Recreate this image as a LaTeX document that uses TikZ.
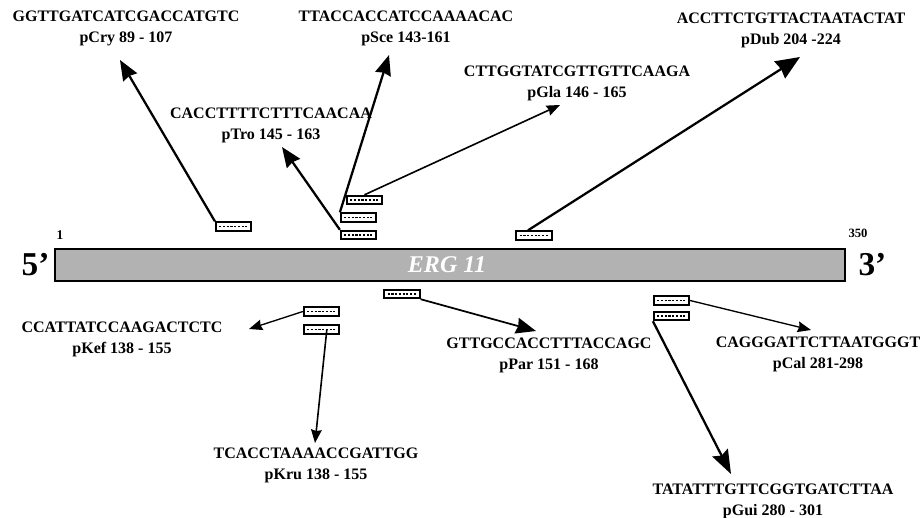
\documentclass[tikz,border=0pt]{standalone}
\usepackage{fontspec}
\setmainfont{Liberation Serif}
\usetikzlibrary{arrows.meta}

\definecolor{genegray}{gray}{0.70}

\tikzset{
  seqlabel/.style={align=center, inner sep=0pt, font=\fontsize{12}{15.8}\selectfont\bfseries},
  probe/.style={draw, fill=white, line width=1.4pt, minimum width=26.5pt, minimum height=6.4pt, inner sep=0pt,
    path picture={\draw[line width=1pt, dash pattern=on 1.6pt off 1.2pt]
      ([xshift=2.5pt]path picture bounding box.west) -- ([xshift=-2.5pt]path picture bounding box.east);}},
  bigarrow/.style={line width=1.7pt, -{Stealth[inset=1.2pt, length=15pt, width=12pt]}},
  thinarrow/.style={line width=1pt, -{Stealth[inset=1pt, length=10pt, width=8pt]}}
}

\begin{document}
\begin{tikzpicture}[x=0.75pt, y=-0.75pt]
  \useasboundingbox (0,0) rectangle (922,518);

  % gene
  \node[draw, fill=genegray, line width=1.3pt, minimum width=592.5pt, minimum height=24pt, inner sep=0pt] (gene) at (450,265) {};
  \node[text=white, font=\fontsize{18}{18}\selectfont\bfseries\itshape] (geneName) at (447,265) {ERG 11};
  \node[font=\fontsize{25}{25}\selectfont\bfseries, left=0pt] (fivePrime) at (gene.west) {5'};
  \node[font=\fontsize{25}{25}\selectfont\bfseries, right=6pt] (threePrime) at (gene.east) {3'};
  \node[font=\fontsize{10}{10}\selectfont\bfseries] (posStart) at (60,235) {1};
  \node[font=\fontsize{9.5}{10}\selectfont\bfseries] (posEnd) at (858,233) {350};

  % probes
  \node[probe] (cryProbe) at (233.5,226.5) {};
  \node[probe] (glaProbe) at (364.5,200) {};
  \node[probe] (sceProbe) at (358.5,217.5) {};
  \node[probe] (troProbe) at (358.5,235) {};
  \node[probe] (dubProbe) at (534,235.5) {};
  \node[probe] (parProbe) at (402,294) {};
  \node[probe] (kefProbe) at (321.5,311.5) {};
  \node[probe] (kruProbe) at (321.5,329.5) {};
  \node[probe] (calProbe) at (671.5,300.5) {};
  \node[probe] (guiProbe) at (671.5,316) {};

  % labels
  \node[seqlabel] (cryLbl) at (126,28) {GGTTGATCATCGACCATGTC\\pCry 89 - 107};
  \node[seqlabel] (sceLbl) at (406,28) {TTACCACCATCCAAAACAC\\pSce 143-161};
  \node[seqlabel] (troLbl) at (271,125) {CACCTTTTCTTTCAACAA\\pTro 145 - 163};
  \node[seqlabel] (glaLbl) at (577,83) {CTTGGTATCGTTGTTCAAGA\\pGla 146 - 165};
  \node[seqlabel] (dubLbl) at (791,30) {ACCTTCTGTTACTAATACTAT\\pDub 204 -224};
  \node[seqlabel] (kefLbl) at (122,339) {CCATTATCCAAGACTCTC\\pKef 138 - 155};
  \node[seqlabel] (kruLbl) at (316,465) {TCACCTAAAACCGATTGG\\pKru 138 - 155};
  \node[seqlabel] (parLbl) at (549,355) {GTTGCCACCTTTACCAGC\\pPar 151 - 168};
  \node[seqlabel] (calLbl) at (818,354) {CAGGGATTCTTAATGGGT\\pCal 281-298};
  \node[seqlabel] (guiLbl) at (773,501) {TATATTTGTTCGGTGATCTTAA\\pGui 280 - 301};

  % arrow tips
  \coordinate (cryTip) at (120,60);
  \coordinate (sceTip) at (389,55);
  \coordinate (glaTip) at (560,105);
  \coordinate (troTip) at (282,147);
  \coordinate (dubTip) at (800,57);
  \coordinate (kefTip) at (249,329);
  \coordinate (kruTip) at (315,443);
  \coordinate (parTip) at (536,331);
  \coordinate (calTip) at (811,330);
  \coordinate (guiTip) at (731,474);

  \draw[bigarrow] (cryProbe.north west) -- (cryTip);
  \draw[bigarrow] (sceProbe.north west) -- (sceTip);
  \draw[thinarrow, line width=1.2pt] (glaProbe.north) -- (glaTip);
  \draw[bigarrow] (troProbe.north west) -- (troTip);
  \draw[bigarrow, -{Stealth[inset=1.2pt, length=18pt, width=15pt]}] ([xshift=-4.5pt]dubProbe.north) -- (dubTip);
  \draw[thinarrow] (kefProbe.west) -- (kefTip);
  \draw[thinarrow, line width=1.2pt] ([xshift=4pt]kruProbe.center) -- (kruTip);
  \draw[bigarrow, line width=1.3pt] (parProbe.south east) -- (parTip);
  \draw[thinarrow] (calProbe.east) -- (calTip);
  \draw[bigarrow, -{Stealth[inset=2.5pt, length=18pt, width=13pt]}] (guiProbe.south west) -- (guiTip);
\end{tikzpicture}
\end{document}
